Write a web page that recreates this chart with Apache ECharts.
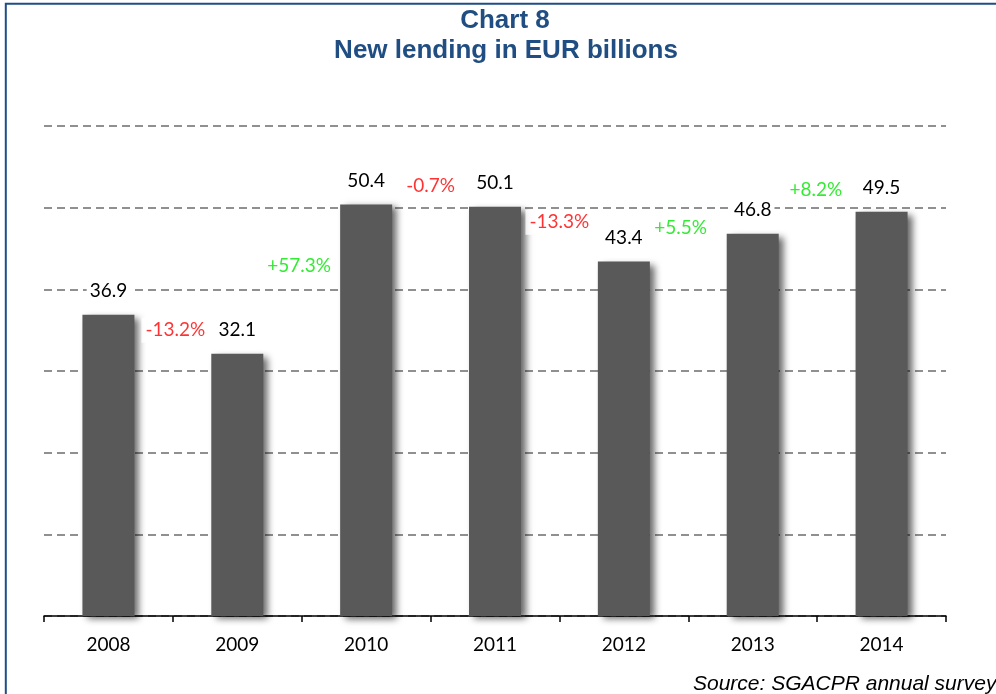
<!DOCTYPE html>
<html>
<head>
<meta charset="utf-8">
<style>
  html, body { margin: 0; padding: 0; background: #fff; }
  #chart { width: 996px; height: 694px; }
</style>
<script src="https://cdn.jsdelivr.net/npm/echarts@6/dist/echarts.min.js"></script>
</head>
<body>
<div id="chart"></div>
<script>
// New lending per year, EUR billions
const years = ['2008', '2009', '2010', '2011', '2012', '2013', '2014'];
const lending = [36.9, 32.1, 50.4, 50.1, 43.4, 46.8, 49.5];

// Year-on-year change labels, shown between consecutive bars
const changeText = ['-13.2%', '+57.3%', '-0.7%', '-13.3%', '+5.5%', '+8.2%'];

// Where each change label sits: x in category units, y in EUR billions
const changeAnchorX = [0.52, 1.48, 2.5, 3.5, 4.44, 5.49];
const changeAnchorY = [35.0, 42.9, 52.7, 48.2, 47.5, 52.2];

const labelFont = 'Lato, "Open Sans", sans-serif';
const titleColor = '#204E82';

const chart = echarts.init(document.getElementById('chart'), null, { renderer: 'canvas' });

const changePoints = changeText.map((t, i) => ({
  value: [changeAnchorX[i], changeAnchorY[i]],
  label: { color: t.charAt(0) === '-' ? '#FF0000' : '#00E600' },
  name: t
}));

chart.setOption({
  animation: false,
  backgroundColor: '#fff',
  graphic: [
    {
      type: 'rect',
      shape: { x: 5.8, y: 3.7, width: 1200, height: 1000 },
      style: { fill: 'none', stroke: '#1F4E86', lineWidth: 2 },
      silent: true
    },
    {
      type: 'text',
      x: 505, y: 21,
      style: {
        text: 'Chart 8',
        font: 'bold 26px "Liberation Sans", Arial, sans-serif',
        fill: titleColor, align: 'center', verticalAlign: 'middle'
      }
    },
    {
      type: 'text',
      x: 506, y: 51,
      style: {
        text: 'New lending in EUR billions',
        font: 'bold 26px "Liberation Sans", Arial, sans-serif',
        fill: titleColor, align: 'center', verticalAlign: 'middle'
      }
    },
    {
      type: 'text',
      x: 693, y: 695,
      style: {
        text: 'Source: SGACPR annual survey',
        font: 'italic 21px "Liberation Sans", Arial, sans-serif',
        fill: '#000', align: 'left', verticalAlign: 'bottom'
      }
    }
  ],
  grid: { left: 44, right: 50, top: 126, bottom: 78 },
  xAxis: [
    {
      type: 'category',
      data: years,
      boundaryGap: true,
      axisLine: { show: true, lineStyle: { color: '#000', width: 1.5 } },
      axisTick: { show: true, length: 6, alignWithLabel: false, lineStyle: { color: '#000', width: 1.5 } },
      axisLabel: { color: '#000', fontFamily: labelFont, fontSize: 19, margin: 19 },
      splitLine: { show: false }
    },
    {
      type: 'value',
      min: -0.5, max: 6.5,
      show: false
    }
  ],
  yAxis: {
    type: 'value',
    min: 0, max: 60, interval: 10,
    axisLine: { show: false },
    axisTick: { show: false },
    axisLabel: { show: false },
    splitLine: { show: true, lineStyle: { color: '#909090', width: 1.8, type: [8, 5] } }
  },
  series: [
    {
      type: 'bar',
      data: lending,
      barWidth: 52,
      itemStyle: {
        color: '#595959',
        shadowColor: 'rgba(0,0,0,0.6)',
        shadowBlur: 7,
        shadowOffsetX: 5,
        shadowOffsetY: 3
      },
      label: {
        show: true,
        position: 'top',
        distance: 13,
        color: '#000',
        fontFamily: labelFont,
        fontSize: 19,
        backgroundColor: '#fff',
        padding: [1, 3],
        formatter: p => p.value.toFixed(1)
      },
      z: 2
    },
    {
      type: 'scatter',
      xAxisIndex: 1,
      data: changePoints,
      symbolSize: 0,
      label: {
        show: true,
        position: 'inside',
        fontFamily: labelFont,
        fontSize: 19,
        backgroundColor: '#fff',
        padding: [3, 4],
        formatter: p => p.name
      },
      z: 5
    }
  ]
});
</script>
</body>
</html>
